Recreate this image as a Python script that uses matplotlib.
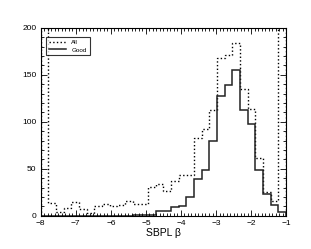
import numpy as np
import matplotlib
matplotlib.use("Agg")
import matplotlib.pyplot as plt
from matplotlib.ticker import MultipleLocator

plt.rcParams['font.family'] = ['Liberation Sans', 'DejaVu Sans']

# 32 bins between -8 and -1
bin_lo, bin_hi, n_bins = -8.0, -1.0, 32

all_counts = [260, 14, 4, 8, 15, 7, 3, 11, 13, 11, 12, 16, 13, 13, 31, 34,
              27, 37, 43, 44, 83, 92, 113, 168, 171, 184, 135, 114, 62, 25, 16, 260]
good_counts = [0, 0, 0, 0, 0, 0, 0, 0, 0, 0, 0, 0, 1, 1, 1, 5,
               5, 9, 11, 20, 39, 49, 80, 128, 139, 155, 113, 98, 49, 23, 12, 4]

edges = np.linspace(bin_lo, bin_hi, n_bins + 1)

fig = plt.figure(figsize=(3.11, 2.49), dpi=100)
ax = fig.add_axes([0.131, 0.133, 0.789, 0.755])

ax.stairs(all_counts, edges, color='black', linestyle=':', lw=1.0, label='All')
ax.stairs(good_counts, edges, color='#222222', linestyle='-', lw=1.1, label='Good')

ax.set_xlim(-8, -1)
ax.set_ylim(0, 200)
ax.xaxis.set_major_locator(MultipleLocator(1))
ax.xaxis.set_minor_locator(MultipleLocator(0.1))
ax.yaxis.set_major_locator(MultipleLocator(50))
ax.yaxis.set_minor_locator(MultipleLocator(10))
ax.tick_params(which='both', direction='in', top=True, right=True, labelsize=6, width=0.6)
ax.tick_params(axis='x', pad=3)
ax.tick_params(axis='y', pad=3)
ax.tick_params(which='major', length=4)
ax.tick_params(which='minor', length=2)
for s in ax.spines.values():
    s.set_linewidth(0.8)

ax.set_xlabel('SBPL β', fontsize=7.5, labelpad=1)

leg = ax.legend(loc='upper left', fontsize=4.5, frameon=True, fancybox=False,
                edgecolor='black', handlelength=2.7, handletextpad=0.9,
                borderpad=0.45, labelspacing=0.35, borderaxespad=0,
                bbox_to_anchor=(0.022, 0.952))
leg.get_frame().set_linewidth(0.8)

fig.savefig('out.png', dpi=100)
